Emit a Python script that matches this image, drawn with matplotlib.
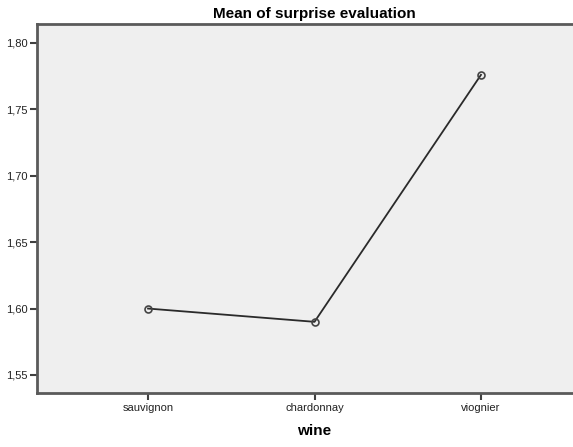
import matplotlib
matplotlib.use("Agg")
import matplotlib.pyplot as plt
from matplotlib.ticker import FuncFormatter

categories = ["sauvignon", "chardonnay", "viognier"]
means = [1.600, 1.590, 1.776]
yticks = [1.55, 1.60, 1.65, 1.70, 1.75, 1.80]

plt.rcParams['font.family'] = ['Liberation Sans', 'DejaVu Sans']

fig = plt.figure(figsize=(5.73, 4.47), dpi=100)
fig.patch.set_facecolor('white')
ax = fig.add_axes([37/573, (447-393)/447, (592-37)/573, (393-24)/447])
ax.set_facecolor('#efefef')

x = list(range(len(categories)))
ax.plot(x, means, color='#2a2a2a', lw=1.3, marker='o', markersize=5,
        markerfacecolor='none', markeredgecolor='#444444', markeredgewidth=1.2)

ax.set_xlim(-0.667, 2.667)
ax.set_ylim(1.5364, 1.8143)
ax.set_xticks(x)
ax.set_xticklabels(categories)
ax.set_yticks(yticks)
ax.yaxis.set_major_formatter(FuncFormatter(lambda v, p: f"{v:.2f}".replace('.', ',')))

for side in ['left', 'bottom', 'top', 'right']:
    ax.spines[side].set_color('#5a5a5a')
    ax.spines[side].set_linewidth(2)
ax.tick_params(axis='both', direction='out', length=5, width=1.5, color='#404040',
               labelsize=8, labelcolor='#222222', pad=2)

ax.set_title("Mean of surprise evaluation", fontsize=11, fontweight='bold', pad=4)
ax.set_xlabel("wine", fontsize=11, fontweight='bold', labelpad=8)

fig.savefig("out.png", dpi=100)
